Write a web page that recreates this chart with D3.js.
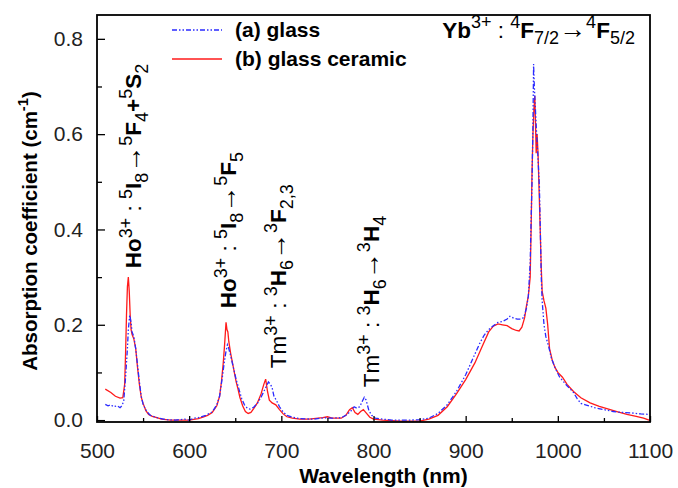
<!DOCTYPE html>
<html><head><meta charset="utf-8">
<script src="https://cdn.jsdelivr.net/npm/d3@7"></script>
<style>body{margin:0;background:#fff}svg{display:block}</style>
</head><body>
<svg id="c" width="678" height="488"></svg>
<script>
// ---- data ----
const glassWl = [509,512,515,518,522,525,527,529,531,533,534,535.5,537,538,540,542,544,546,548,550,554,558,565,575,585,595,600,605,610,618,625,630,633,636,638,640,641.5,643,645,648,651,654,657,660,663,666,670,674,678,681,684,686,688,690,692,695,698,702,706,712,720,735,748,752,765,770,775,779,782,785,788,790,792,795,798,802,810,820,840,850,860,870,880,890,900,908,915,920,925,930,935,940,945,948,952,956,960,963,966,968,970,971,972,973,973.7,974.5,975.5,977,978.5,980,981,982,983,985,987,990,993,997,1002,1010,1017,1021,1025,1030,1040,1050,1060,1070,1080,1090,1099];
const glassAbs = [0.033,0.030,0.032,0.028,0.030,0.026,0.030,0.040,0.090,0.150,0.190,0.220,0.205,0.185,0.175,0.150,0.115,0.080,0.050,0.033,0.018,0.010,0.005,0.001,0.000,0.002,0.000,0.004,0.005,0.010,0.017,0.032,0.050,0.090,0.120,0.145,0.158,0.150,0.135,0.110,0.085,0.065,0.045,0.032,0.025,0.023,0.027,0.035,0.048,0.060,0.072,0.080,0.076,0.068,0.050,0.040,0.028,0.017,0.010,0.006,0.003,0.002,0.005,0.004,0.005,0.010,0.018,0.028,0.025,0.028,0.040,0.048,0.042,0.020,0.010,0.004,0.002,0.000,0.000,0.001,0.004,0.014,0.032,0.060,0.095,0.130,0.160,0.178,0.190,0.198,0.205,0.207,0.212,0.218,0.214,0.212,0.212,0.215,0.235,0.260,0.330,0.420,0.500,0.620,0.747,0.700,0.660,0.600,0.550,0.490,0.400,0.300,0.250,0.200,0.175,0.155,0.130,0.110,0.090,0.072,0.058,0.045,0.035,0.032,0.026,0.022,0.018,0.016,0.015,0.013,0.012];

const gcWl = [509,515,520,525,528,530,531,532,533,534,535,536,537,538,540,542,544,546,548,550,553,556,560,565,570,580,590,600,610,615,620,625,630,633,635,637,638.5,640,641,642,643,645,647,649,651,653,655,658,661,664,667,670,674,678,681,683,685,687,690,694,698,702,706,712,720,730,745,750,755,765,770,774,777,780,783,786,789,792,796,800,810,830,850,860,870,880,890,900,910,918,925,930,935,940,945,950,955,958,961,964,966,968,970,971,972,973,974,975,975.8,976.5,977.5,978.5,980,981,982,983,985,987,989,991,994,997,1000,1005,1010,1017,1025,1035,1045,1055,1065,1075,1085,1093,1099];
const gcAbs = [0.065,0.058,0.050,0.046,0.047,0.075,0.140,0.220,0.280,0.300,0.270,0.220,0.190,0.180,0.170,0.150,0.110,0.075,0.048,0.035,0.020,0.012,0.008,0.005,0.002,0.000,0.000,0.000,0.003,0.006,0.010,0.016,0.030,0.050,0.080,0.120,0.160,0.205,0.190,0.185,0.165,0.140,0.120,0.100,0.080,0.065,0.048,0.030,0.018,0.014,0.016,0.024,0.036,0.055,0.075,0.086,0.060,0.042,0.036,0.032,0.022,0.013,0.007,0.004,0.002,0.002,0.005,0.007,0.004,0.004,0.010,0.022,0.026,0.016,0.012,0.018,0.022,0.015,0.006,0.002,0.000,-0.002,-0.002,0.002,0.010,0.028,0.055,0.085,0.120,0.155,0.185,0.197,0.202,0.200,0.198,0.192,0.188,0.187,0.195,0.215,0.240,0.260,0.300,0.400,0.520,0.600,0.650,0.680,0.620,0.560,0.600,0.560,0.460,0.390,0.320,0.270,0.250,0.235,0.200,0.150,0.125,0.110,0.100,0.090,0.075,0.060,0.047,0.036,0.029,0.023,0.017,0.012,0.008,0.004,0.000];

const xMajor = [500,600,700,800,900,1000,1100];
const xMinor = [550,650,750,850,950,1050];
const yMajor = [0.0,0.2,0.4,0.6,0.8];
const yMinor = [0.1,0.3,0.5,0.7];
const seriesNames = ["(a) glass","(b) glass ceramic"];
const xTitle = "Wavelength (nm)";

// annotations: anchor (wavelength, value), rotate flag, rich parts
const annotations = [
  {w:547.8, v:0.3185, rot:true, parts:[["Ho","b"],["3+","sup"],[" : ",""],["5","sup"],["I","b"],["8","sub"],["\u2192","arr"],["5","sup"],["F","b"],["4","sub"],["+","b"],["5","sup"],["S","b"],["2","sub"]]},
  {w:650.9, v:0.2347, rot:true, parts:[["Ho","b"],["3+","sup"],[" : ",""],["5","sup"],["I","b"],["8","sub"],["\u2192","arr"],["5","sup"],["F","b"],["5","sub"]]},
  {w:705.2, v:0.109, rot:true, parts:[["Tm",""],["3+","sup"],[" : ",""],["3","sup"],["H","b"],["6","sub"],["\u2192","arr"],["3","sup"],["F","b"],["2,3","sub"]]},
  {w:806.2, v:0.069, rot:true, parts:[["Tm",""],["3+","sup"],[" : ",""],["3","sup"],["H","b"],["6","sub"],["\u2192","arr"],["3","sup"],["H","b"],["4","sub"]]},
  {w:874.6, v:0.8026, rot:false, parts:[["Yb","b"],["3+","sup"],[" : ",""],["4","sup"],["F","b"],["7/2","sub"],["\u2192","arr"],["4","sup"],["F","b"],["5/2","sub"]]}
];

// ---- layout ----
const L=97, R=650, T=15, B=422;
const FONT = "Arial, 'Liberation Sans', Helvetica, sans-serif";
const svg = d3.select("#c");
const x = d3.scaleLinear().domain([500,1100]).range([L,R]);
const y = d3.scaleLinear().domain([-0.004,0.85]).range([B,T]);

const glass = glassWl.map((w,i)=>[w,glassAbs[i]]);
const gc = gcWl.map((w,i)=>[w,gcAbs[i]]);
const line = d3.line().x(d=>x(d[0])).y(d=>y(d[1]));

svg.append("clipPath").attr("id","pc").append("rect").attr("x",L).attr("y",T).attr("width",R-L).attr("height",B-T);
const plot = svg.append("g").attr("clip-path","url(#pc)");
plot.append("path").datum(gc).attr("d",line).attr("fill","none").attr("stroke","#ff1a1a").attr("stroke-width",1.3);
plot.append("path").datum(glass).attr("d",line).attr("fill","none").attr("stroke","#2a2aff").attr("stroke-width",1.3).attr("stroke-dasharray","5,2,1.5,2,1.5,2");

// axes
function styleAxis(g){
  g.select(".domain").remove();
  g.selectAll(".tick line").attr("stroke","#000").attr("stroke-width",1.3);
  g.selectAll("text").attr("font-family",FONT).attr("font-size",21).attr("fill","#222");
}
svg.append("g").attr("transform",`translate(0,${B})`)
  .call(d3.axisBottom(x).tickValues(xMajor).tickSizeInner(-6).tickSizeOuter(0).tickPadding(21).tickFormat(d3.format("d")))
  .call(styleAxis);
svg.append("g").attr("transform",`translate(0,${B})`)
  .call(d3.axisBottom(x).tickValues(xMinor).tickSizeInner(-4).tickSizeOuter(0).tickFormat(""))
  .call(styleAxis);
svg.append("g").attr("transform",`translate(${L},0)`)
  .call(d3.axisLeft(y).tickValues(yMajor).tickSizeInner(-8).tickSizeOuter(0).tickPadding(14).tickFormat(d3.format(".1f")))
  .call(styleAxis);
svg.append("g").attr("transform",`translate(${L},0)`)
  .call(d3.axisLeft(y).tickValues(yMinor).tickSizeInner(-5).tickSizeOuter(0).tickFormat(""))
  .call(styleAxis);

// frame
svg.append("rect").attr("x",L).attr("y",T).attr("width",R-L).attr("height",B-T)
  .attr("fill","none").attr("stroke","#000").attr("stroke-width",1.8);

// rich text helper
function rich(sel, parts, fs, small){
  let cur=0;
  parts.forEach(([t,k])=>{
    const target = k==="sup" ? -0.42*fs : (k==="sub" ? 0.30*fs : 0);
    const size = (k==="sup"||k==="sub") ? fs*small : (k==="arr" ? fs*1.2 : fs);
    sel.append("tspan").text(t).attr("dy", target-cur)
      .attr("font-size", size)
      .attr("font-weight", k==="b" ? "bold" : "normal");
    cur=target;
  });
}

// axis titles
svg.append("text").attr("x",(L+R)/2+10).attr("y",483).attr("text-anchor","middle")
  .attr("font-family",FONT).attr("font-size",21).attr("font-weight","bold").text(xTitle);
const yt = svg.append("text").attr("transform",`translate(37,${231}) rotate(-90)`).attr("text-anchor","middle")
  .attr("font-family",FONT).attr("font-weight","bold").attr("fill","#000");
rich(yt, [["Absorption coefficient (cm","b"],["-1","sup"],[")","b"]], 20.5, 0.72);
yt.selectAll("tspan").attr("font-weight","bold");

// legend
const leg = [{dash:"5,2,1.5,2,1.5,2", col:"#2a2aff", yy:30},{dash:null,col:"#ff1a1a",yy:59}];
leg.forEach((d,i)=>{
  const ln = svg.append("line").attr("x1",172).attr("x2",222).attr("y1",d.yy).attr("y2",d.yy)
    .attr("stroke",d.col).attr("stroke-width",1.3);
  if(d.dash) ln.attr("stroke-dasharray",d.dash);
  svg.append("text").attr("x",235).attr("y",d.yy+7).attr("font-family",FONT).attr("font-size",21)
    .attr("font-weight","bold").text(seriesNames[i]);
});

// annotations
annotations.forEach(a=>{
  const px=x(a.w), py=y(a.v);
  const t = svg.append("text").attr("font-family",FONT).attr("fill","#000")
    .attr("transform", a.rot ? `translate(${px},${py}) rotate(-90)` : `translate(${px},${py})`);
  rich(t, a.parts, 22.5, 0.8);
});
</script>
</body></html>
